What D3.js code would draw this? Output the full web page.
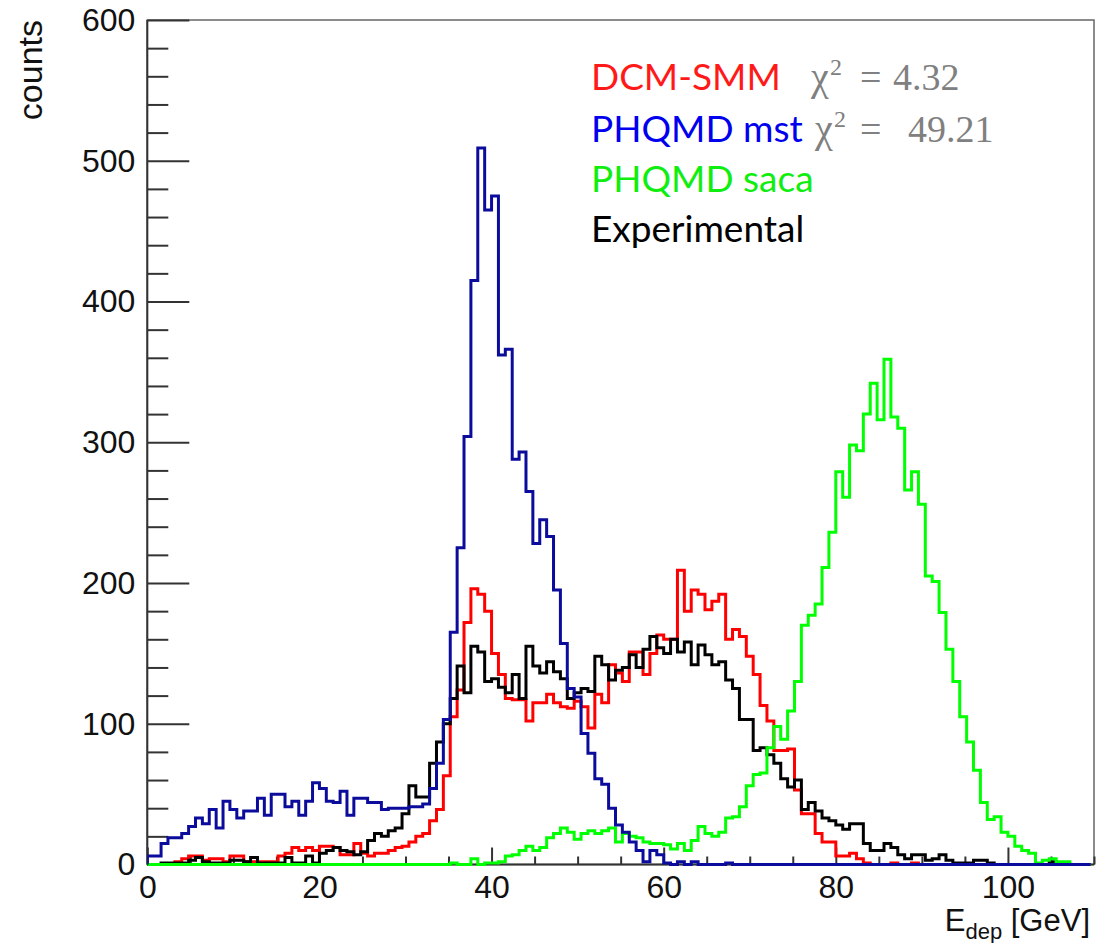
<!DOCTYPE html>
<html>
<head>
<meta charset="utf-8">
<script src="https://cdn.jsdelivr.net/npm/d3@7"></script>
<style>
  body { margin: 0; background: #fff; }
  svg { display: block; }
</style>
</head>
<body>
<svg id="chart"></svg>
<script>
// bin width of all histograms, GeV
const binWidth = 0.8;

// counts per bin, starting at E_dep = 0
const dcmSmm = [
  0, 0, 0, 0, 2, 4, 6, 6, 3, 4,
  4, 2, 6, 6, 2, 2, 2, 2, 2, 6,
  8, 12, 10, 12, 10, 13, 13, 12, 7, 7,
  15, 8, 6, 8, 8, 10, 12, 13, 16, 20,
  22, 31, 39, 63, 105, 124, 172, 196, 192, 180,
  150, 135, 118, 117, 117, 102, 115, 115, 121, 115,
  112, 111, 116, 112, 97, 121, 115, 142, 136, 130,
  151, 151, 135, 150, 163, 160, 160, 209, 180, 195,
  192, 181, 187, 192, 160, 167, 162, 148, 135, 113,
  102, 81, 81, 82, 53, 36, 36, 22, 16, 16,
  6, 6, 8, 4, 1, 0, 0, 0, 1, 0,
  0, 1, 0, 0, 0, 0, 0, 0, 0, 0,
  0, 0, 0, 0, 0, 0, 0, 0, 0, 0,
  0, 0, 0, 0, 0, 0, 0
];

const phqmdMst = [
  6, 6, 15, 19, 19, 22, 27, 33, 29, 39,
  26, 45, 39, 33, 38, 38, 47, 35, 50, 50,
  41, 45, 35, 45, 58, 54, 45, 44, 52, 35,
  47, 47, 44, 44, 39, 40, 40, 40, 41, 41,
  43, 54, 72, 103, 165, 225, 304, 415, 509, 465,
  475, 362, 366, 288, 293, 265, 228, 245, 233, 195,
  157, 125, 119, 93, 79, 61, 57, 40, 28, 23,
  16, 10, 2, 10, 7, 1, 0, 2, 0, 2,
  0, 0, 0, 0, 1, 0, 0, 0, 0, 0,
  0, 0, 0, 0, 0, 0, 0, 0, 0, 0,
  0, 0, 0, 0, 0, 0, 0, 0, 0, 0,
  0, 0, 0, 0, 0, 0, 0, 0, 0, 0,
  0, 0, 0, 0, 0, 0, 0, 0, 0, 0,
  0, 0, 0, 0, 0, 0, 0
];

const phqmdSaca = [
  0, 0, 0, 0, 0, 0, 0, 0, 0, 0,
  0, 0, 0, 0, 0, 0, 0, 0, 0, 0,
  0, 0, 0, 0, 0, 0, 0, 0, 0, 0,
  0, 0, 0, 0, 0, 0, 0, 0, 0, 0,
  0, 0, 0, 0, 1, 0, 0, 4, 0, 1,
  1, 2, 6, 7, 10, 13, 10, 12, 19, 22,
  26, 23, 18, 22, 24, 22, 24, 26, 16, 22,
  20, 19, 16, 15, 15, 14, 11, 15, 10, 17,
  27, 22, 20, 23, 33, 34, 41, 56, 64, 65,
  83, 98, 89, 109, 130, 170, 177, 185, 211, 236,
  279, 261, 298, 294, 320, 342, 316, 359, 318, 310,
  266, 279, 256, 205, 201, 179, 153, 130, 105, 87,
  67, 44, 32, 34, 23, 20, 13, 10, 8, 1,
  3, 4, 2, 2, 0, 0, 0
];

const experimental = [
  0, 0, 1, 1, 1, 1, 3, 5, 2, 1,
  1, 1, 3, 3, 2, 5, 1, 1, 1, 1,
  5, 1, 1, 6, 1, 8, 10, 12, 10, 9,
  7, 9, 17, 22, 20, 24, 26, 36, 56, 48,
  48, 72, 87, 100, 118, 141, 122, 155, 151, 130,
  132, 126, 122, 135, 118, 155, 141, 136, 144, 137,
  132, 118, 122, 125, 123, 148, 142, 131, 138, 140,
  149, 140, 153, 162, 154, 150, 160, 151, 158, 142,
  156, 149, 142, 144, 131, 125, 103, 103, 81, 83,
  78, 72, 61, 55, 60, 39, 44, 38, 33, 31,
  28, 25, 29, 29, 15, 10, 10, 15, 12, 7,
  4, 7, 7, 3, 4, 7, 3, 1, 1, 1,
  3, 3, 1, 0, 0, 0, 0, 0, 0, 0,
  0, 2, 0, 0, 0, 0, 0
];

const seriesNames = ["DCM-SMM", "PHQMD mst", "PHQMD saca", "Experimental"];
const chiValues = ["4.32", "49.21"];
const yMajorTicks = [0, 100, 200, 300, 400, 500, 600];
const xMajorTicks = [0, 20, 40, 60, 80, 100];

const width = 1096, height = 943;
const margin = { top: 20, right: 2, bottom: 78.5, left: 147.3 };

const svg = d3.select("#chart")
  .attr("width", width)
  .attr("height", height)
  .style("font-family", "'Liberation Sans', Arial, sans-serif");

svg.append("rect").attr("width", width).attr("height", height).attr("fill", "#fff");

// Scales
const x = d3.scaleLinear().domain([0, 110]).range([margin.left, width - margin.right]);
const y = d3.scaleLinear().domain([0, 600]).range([height - margin.bottom, margin.top]);

svg.append("clipPath").attr("id", "plot-clip")
  .append("rect")
  .attr("x", margin.left).attr("y", margin.top - 2)
  .attr("width", width - margin.right - margin.left)
  .attr("height", height - margin.bottom - margin.top + 4);

// frame
svg.append("rect")
  .attr("x", margin.left).attr("y", margin.top)
  .attr("width", width - margin.right - margin.left)
  .attr("height", height - margin.bottom - margin.top)
  .attr("fill", "none").attr("stroke", "#666").attr("stroke-width", 1.5);

// Y axis, minor then major ticks
const yMinor = d3.range(0, 601, 20).filter(v => v % 100 !== 0);
svg.append("g")
  .attr("transform", `translate(${margin.left},0)`)
  .call(d3.axisLeft(y).tickValues(yMinor).tickSize(-21).tickFormat(""))
  .call(g => g.select(".domain").remove())
  .selectAll("line").attr("stroke", "#333").attr("stroke-width", 2);

svg.append("g")
  .attr("transform", `translate(${margin.left},0)`)
  .call(d3.axisLeft(y).tickValues(yMajorTicks).tickSize(-42).tickPadding(12))
  .call(g => g.select(".domain").remove())
  .call(g => g.selectAll("line").attr("stroke", "#333").attr("stroke-width", 2))
  .selectAll("text")
  .attr("font-size", 32).attr("fill", "#111")
  .attr("font-family", "'Liberation Sans', Arial, sans-serif");

// X axis
const xMinor = d3.range(0, 111, 5).filter(v => v % 20 !== 0);
svg.append("g")
  .attr("transform", `translate(0,${height - margin.bottom})`)
  .call(d3.axisBottom(x).tickValues(xMinor).tickSize(-8).tickFormat(""))
  .call(g => g.select(".domain").remove())
  .selectAll("line").attr("stroke", "#333").attr("stroke-width", 2);

svg.append("g")
  .attr("transform", `translate(0,${height - margin.bottom})`)
  .call(d3.axisBottom(x).tickValues(xMajorTicks).tickSize(-17).tickPadding(11))
  .call(g => g.select(".domain").remove())
  .call(g => g.selectAll("line").attr("stroke", "#333").attr("stroke-width", 2))
  .selectAll("text")
  .attr("font-size", 32).attr("fill", "#111")
  .attr("font-family", "'Liberation Sans', Arial, sans-serif");

// axis lines on top of the frame
svg.append("line")
  .attr("x1", margin.left).attr("x2", margin.left)
  .attr("y1", y(0)).attr("y2", y(600))
  .attr("stroke", "#333").attr("stroke-width", 2);
svg.append("line")
  .attr("x1", margin.left).attr("x2", width - margin.right)
  .attr("y1", y(0)).attr("y2", y(0))
  .attr("stroke", "#333").attr("stroke-width", 2);

// histograms as step outlines
function histPath(values) {
  const pts = [[0, 0]];
  values.forEach((v, i) => {
    pts.push([i * binWidth, v]);
    pts.push([(i + 1) * binWidth, v]);
  });
  pts.push([values.length * binWidth, 0]);
  return d3.line().x(d => x(d[0])).y(d => y(d[1]))(pts);
}

const hists = [
  { values: dcmSmm, color: "#ff0000" },
  { values: experimental, color: "#000000" },
  { values: phqmdSaca, color: "#00ff00" },
  { values: phqmdMst, color: "#0c0c9c" }
];

svg.append("g")
  .attr("clip-path", "url(#plot-clip)")
  .selectAll("path")
  .data(hists)
  .enter()
  .append("path")
  .attr("d", d => histPath(d.values))
  .attr("fill", "none")
  .attr("stroke", d => d.color)
  .attr("stroke-width", 3)
  .attr("stroke-linejoin", "miter");

// Y-axis label
svg.append("text")
  .attr("transform", `translate(42,${margin.top}) rotate(-90)`)
  .attr("text-anchor", "end")
  .attr("font-size", 34)
  .attr("fill", "#111")
  .text("counts");

// X-axis label
const xLabel = svg.append("text")
  .attr("x", 1090).attr("y", 931)
  .attr("text-anchor", "end")
  .attr("font-size", 31)
  .attr("fill", "#111");
xLabel.append("tspan").text("E");
xLabel.append("tspan").attr("font-size", 22).attr("dy", 8).text("dep");
xLabel.append("tspan").attr("dy", -8).text(" [GeV]");

// legend text
const legendColors = ["#ff1a1a", "#0000ee", "#10ee10", "#000000"];
const legendY = [90, 141.7, 191.7, 241.7];
svg.append("g")
  .selectAll("text")
  .data(seriesNames)
  .enter()
  .append("text")
  .attr("x", 591)
  .attr("y", (d, i) => legendY[i])
  .attr("font-family", "Lato, 'Open Sans', sans-serif")
  .attr("font-size", 37)
  .attr("fill", (d, i) => legendColors[i])
  .text(d => d);

// chi-square annotations
const chiX = [811, 815];
const numX = [893, 908];
chiValues.forEach((val, i) => {
  const g = svg.append("g")
    .attr("font-family", "'Liberation Serif', 'Times New Roman', serif")
    .attr("fill", "#808080");
  g.append("text").attr("x", chiX[i]).attr("y", legendY[i]).attr("font-size", 40).text("χ");
  g.append("text").attr("x", chiX[i] + 19).attr("y", legendY[i] - 15).attr("font-size", 24).text("2");
  g.append("text").attr("x", 860).attr("y", legendY[i]).attr("font-size", 38).text("=");
  g.append("text").attr("x", numX[i]).attr("y", legendY[i]).attr("font-size", 38).text(val);
});
</script>
</body>
</html>
